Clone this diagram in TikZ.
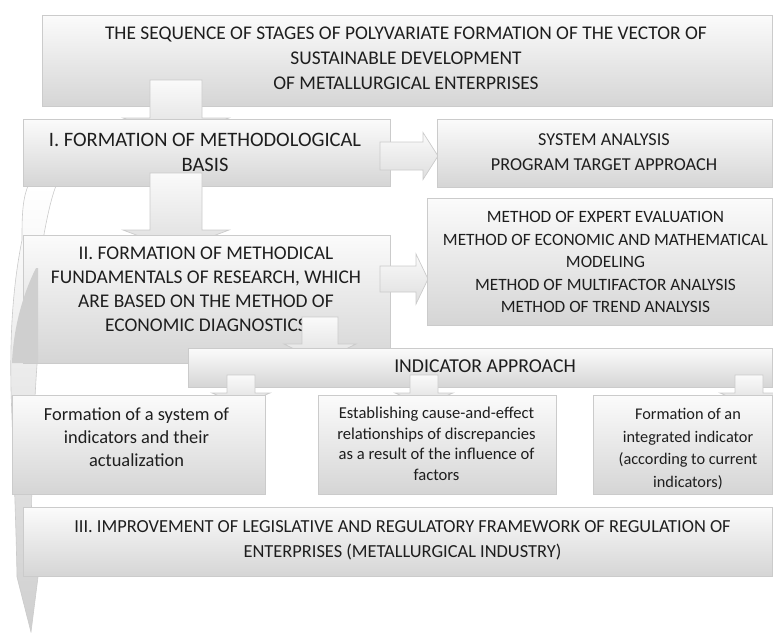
\documentclass[tikz,border=0pt]{standalone}
\usepackage{fontspec}
\setmainfont{Carlito}
\definecolor{boxtop}{HTML}{FBFBFB}
\definecolor{boxbot}{HTML}{D5D5D5}
\definecolor{boxline}{HTML}{CBCBCB}
\definecolor{arrtop}{HTML}{FAFAFA}
\definecolor{arrbot}{HTML}{DEDEDE}
\definecolor{txtc}{HTML}{1E1E1E}
\definecolor{ribbon}{HTML}{CFCFCF}
\tikzset{
  box/.style={draw=boxline, line width=0.8pt, top color=boxtop, bottom color=boxbot, inner sep=0pt, anchor=north west},
  arr/.style={draw=boxline, line width=0.7pt, top color=arrtop, bottom color=arrbot},
  txt/.style={align=center, text=txtc, inner sep=0pt},
}
\newcommand{\dnarr}[6]{\path[arr] ({#1-#5},#2) -- ({#1+#5},#2) -- ({#1+#5},#3) -- ({#1+#6},#3) -- (#1,#4) -- ({#1-#6},#3) -- ({#1-#5},#3) -- cycle;}
\newcommand{\rtarr}[6]{\path[arr] (#2,{#1-#5}) -- (#3,{#1-#5}) -- (#3,{#1-#6}) -- (#4,#1) -- (#3,{#1+#6}) -- (#3,{#1+#5}) -- (#2,{#1+#5}) -- cycle;}
\begin{document}
\begin{tikzpicture}[x=1pt,y=-1pt]
\useasboundingbox (0,0) rectangle (773,632);
% ribbon (curved arrow) behind
\path[draw=boxline, line width=0.6pt, top color=white, bottom color=ribbon]
  (28,186) .. controls (22,200) and (22,220) .. (22,240)
  .. controls (12,290) and (10,340) .. (11,390)
  .. controls (13,450) and (16,520) .. (17,577)
  -- (31,632) -- (38,577) -- (31,572)
  .. controls (31,500) and (33,420) .. (37,365)
  -- (38,275) .. controls (42,240) and (50,200) .. (56,186) -- cycle;
% title
\node[box, minimum width=730pt, minimum height=91pt] (title) at (42,15) {};
\node[txt, font=\fontsize{19.4}{25}\selectfont] (titlet) at (406,58) {THE SEQUENCE OF STAGES OF POLYVARIATE FORMATION OF THE VECTOR OF\\SUSTAINABLE DEVELOPMENT\\OF METALLURGICAL ENTERPRISES};
\dnarr{176}{80}{118}{140}{26}{53}
% box I
\node[box, minimum width=367pt, minimum height=67pt] (b1) at (23,119) {};
\node[txt, font=\fontsize{20.5}{25}\selectfont] (b1t) at (205,152.5) {I. FORMATION OF METHODOLOGICAL\\BASIS};
\rtarr{156}{380}{423}{438}{14}{23.5}
\node[box, minimum width=335pt, minimum height=68pt] (sa) at (437,119) {};
\node[txt, font=\fontsize{18.2}{25}\selectfont] (sat) at (604,152.5) {SYSTEM ANALYSIS\\PROGRAM TARGET APPROACH};
\dnarr{176}{173}{230}{250}{26}{53}
% box II
\node[box, minimum width=367pt, minimum height=128pt] (b2) at (23,235) {};
\node[txt, font=\fontsize{19.4}{24}\selectfont] (b2t) at (206,289) {II. FORMATION OF METHODICAL\\FUNDAMENTALS OF RESEARCH, WHICH\\ARE BASED ON THE METHOD OF\\ECONOMIC DIAGNOSTICS};
% ribbon back face over box II
\path[fill=ribbon] (36,268) .. controls (20,300) and (13,335) .. (12,363) -- (38,363) -- (38,268) -- cycle;
\rtarr{279}{380}{416}{428}{13}{25}
\node[box, minimum width=345pt, minimum height=127pt] (me) at (427,198) {};
\node[txt, font=\fontsize{17.3}{22.5}\selectfont] (met) at (605.5,262) {METHOD OF EXPERT EVALUATION\\METHOD OF ECONOMIC AND MATHEMATICAL\\MODELING\\METHOD OF MULTIFACTOR ANALYSIS\\METHOD OF TREND ANALYSIS};
\dnarr{320}{317}{344}{362}{18}{36}
% indicator
\node[box, minimum width=584pt, minimum height=39pt] (ind) at (188,348) {};
\node[txt, font=\fontsize{19.7}{24}\selectfont] (indt) at (485,366) {INDICATOR APPROACH};
\dnarr{241}{375}{393}{405}{14}{29}
\dnarr{424}{375}{393}{405}{14}{29}
\dnarr{749}{375}{393}{405}{14}{29}
% three boxes
\node[box, minimum width=253pt, minimum height=99pt] (ba) at (12,395) {};
\node[txt, font=\fontsize{18.4}{23}\selectfont] (bat) at (136.5,437) {Formation of a system of\\indicators and their\\actualization};
\node[box, minimum width=238pt, minimum height=99pt] (bb) at (318,395) {};
\node[txt, font=\fontsize{16.6}{20.5}\selectfont] (bbt) at (436.5,444) {Establishing cause-and-effect\\relationships of discrepancies\\as a result of the influence of\\factors};
\node[box, minimum width=179pt, minimum height=99pt] (bc) at (593,395) {};
\node[txt, font=\fontsize{16.3}{22.5}\selectfont] (bct) at (688,449) {Formation of an\\integrated indicator\\(according to current\\indicators)};
% box III
\node[box, minimum width=749pt, minimum height=69pt] (b3) at (23,507) {};
\node[txt, font=\fontsize{18.4}{25}\selectfont] (b3t) at (402.5,540) {III. IMPROVEMENT OF LEGISLATIVE AND REGULATORY FRAMEWORK OF REGULATION OF\\ENTERPRISES (METALLURGICAL INDUSTRY)};
\end{tikzpicture}
\end{document}
